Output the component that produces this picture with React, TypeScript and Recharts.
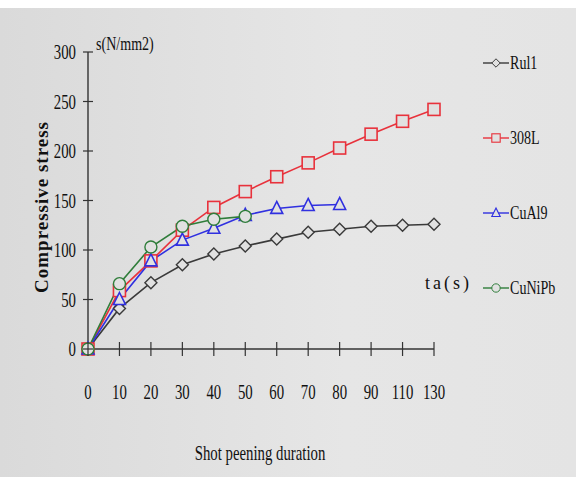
import React from "react";
import { LineChart, Line, XAxis, YAxis } from "recharts";

// shot peening duration (s) - note: no 100 / 120 in the original
const durations = ["0", "10", "20", "30", "40", "50", "60", "70", "80", "90", "110", "130"];
const yTicks = [0, 50, 100, 150, 200, 250, 300];

const rul1 = [0, 41, 67, 85, 96, 104, 111, 118, 121, 124, 125, 126];
const l308 = [0, 59, 89, 120, 143, 159, 174, 188, 203, 217, 230, 242];
const cuAl9 = [0, 50, 89, 110, 122, 135, 142, 145, 146];
const cuNiPb = [0, 66, 103, 124, 131, 134];

type Shape = "diamond" | "square" | "triangle" | "circle";

const series: { key: string; name: string; values: number[]; color: string; shape: Shape }[] = [
  { key: "rul1", name: "Rul1", values: rul1, color: "#3a3a3a", shape: "diamond" },
  { key: "l308", name: "308L", values: l308, color: "#e8323c", shape: "square" },
  { key: "cuAl9", name: "CuAl9", values: cuAl9, color: "#3030e0", shape: "triangle" },
  { key: "cuNiPb", name: "CuNiPb", values: cuNiPb, color: "#2f7d3a", shape: "circle" },
];

const data = durations.map((d, i) => {
  const row: Record<string, any> = { t: d };
  series.forEach((s) => {
    row[s.key] = i < s.values.length ? s.values[i] : null;
  });
  return row;
});

const BG = "#e1e1e1";
const SERIF = "'Liberation Serif', 'Times New Roman', serif";
const SQ = 0.74; // the original text looks horizontally squeezed

// plot box (margin.left + yaxis width, height - margin.bottom - xaxis height)
const AXIS_X = 88;
const AXIS_Y = 349;

const Marker = ({ shape, cx, cy, color }: { shape: Shape; cx: number; cy: number; color: string }) => {
  const s = 6;
  if (shape === "diamond")
    return (
      <polygon
        points={`${cx},${cy - s} ${cx + s},${cy} ${cx},${cy + s} ${cx - s},${cy}`}
        fill={BG}
        stroke={color}
        strokeWidth={1.4}
      />
    );
  if (shape === "square")
    return <rect x={cx - s} y={cy - s} width={2 * s} height={2 * s} fill={BG} stroke={color} strokeWidth={1.6} />;
  if (shape === "triangle")
    return (
      <polygon
        points={`${cx},${cy - s - 1} ${cx + s},${cy + s - 1} ${cx - s},${cy + s - 1}`}
        fill={BG}
        stroke={color}
        strokeWidth={1.6}
      />
    );
  return <circle cx={cx} cy={cy} r={s} fill={BG} stroke={color} strokeWidth={1.4} />;
};

const makeDot = (shape: Shape, color: string) => (props: any) => {
  const { cx, cy, index, value } = props;
  if (value == null || cx == null || cy == null) return <g key={`d-${index}`} />;
  return (
    <g key={`d-${index}`}>
      <Marker shape={shape} cx={cx} cy={cy} color={color} />
    </g>
  );
};

const XTick = ({ x, payload }: any) => (
  <g>
    <line x1={x} x2={x} y1={AXIS_Y - 7} y2={AXIS_Y + 7} stroke="#333" strokeWidth={1.2} />
    <text
      transform={`translate(${x},${AXIS_Y + 50}) scale(${SQ},1)`}
      textAnchor="middle"
      fontFamily={SERIF}
      fontSize={20}
      fill="#111"
    >
      {payload.value}
    </text>
  </g>
);

const YTick = ({ y, payload }: any) => (
  <g>
    <line x1={AXIS_X - 5} x2={AXIS_X + 5} y1={y} y2={y} stroke="#333" strokeWidth={1.2} />
    <text
      transform={`translate(${AXIS_X - 12},${y + 7}) scale(${SQ},1)`}
      textAnchor="end"
      fontFamily={SERIF}
      fontSize={20}
      fill="#111"
    >
      {payload.value}
    </text>
  </g>
);

const LegendBox = () => (
  <div style={{ position: "absolute", left: 482, top: 0 }}>
    {series.map((s, i) => (
      <div
        key={s.key}
        style={{ position: "absolute", left: 0, top: 52 + i * 75, display: "flex", alignItems: "center", height: 22 }}
      >
        <svg width={28} height={22}>
          <line x1={1} x2={27} y1={11} y2={11} stroke={s.color} strokeWidth={1.4} />
          <g transform="translate(14,11) scale(0.7) translate(-14,-11)">
            <Marker shape={s.shape} cx={14} cy={11} color={s.color} />
          </g>
        </svg>
        <span
          style={{
            fontFamily: SERIF,
            fontSize: 19,
            color: "#111",
            display: "inline-block",
            transform: `scale(${SQ},1)`,
            transformOrigin: "left center",
            whiteSpace: "nowrap",
          }}
        >
          {s.name}
        </span>
      </div>
    ))}
  </div>
);

export default function App() {
  return (
    <div
      style={{
        position: "absolute",
        left: 0,
        top: 0,
        width: 576,
        height: 477,
        background: "linear-gradient(to right, #dadada, #e6e6e6 60%, #e4e4e4)",
        overflow: "hidden",
      }}
    >
      <div style={{ position: "absolute", left: 0, top: 0, width: 576, height: 8, background: "#fff" }} />
      <LineChart
        width={576}
        height={477}
        data={data}
        margin={{ top: 52, right: 142, bottom: 68, left: 28 }}
        style={{ position: "absolute", left: 0, top: 0 }}
      >
        <XAxis
          dataKey="t"
          height={60}
          stroke="#333"
          strokeWidth={1.4}
          tickLine={false}
          interval={0}
          tick={<XTick />}
          padding={{ left: 0, right: 0 }}
        />
        <YAxis
          width={60}
          domain={[0, 300]}
          ticks={yTicks}
          stroke="#333"
          strokeWidth={1.4}
          tickLine={false}
          tick={<YTick />}
        />
        {series.map((s) => (
          <Line
            key={s.key}
            dataKey={s.key}
            name={s.name}
            stroke={s.color}
            strokeWidth={1.6}
            dot={makeDot(s.shape, s.color)}
            activeDot={false}
            isAnimationActive={false}
            connectNulls={false}
          />
        ))}
        <text
          transform={`translate(96,50) scale(${SQ},1)`}
          fontFamily={SERIF}
          fontSize={19}
          fill="#111"
        >
          s(N/mm2)
        </text>
        <text
          transform={`translate(48,207) rotate(-90)`}
          textAnchor="middle"
          fontFamily={SERIF}
          fontWeight="bold"
          fontSize={19}
          letterSpacing={1}
          fill="#111"
        >
          Compressive stress
        </text>
        <text x={425} y={289} fontFamily={SERIF} fontSize={18} letterSpacing={3} fill="#111">
          ta(s)
        </text>
        <text
          transform={`translate(260,460) scale(${SQ},1)`}
          textAnchor="middle"
          fontFamily={SERIF}
          fontSize={20}
          fill="#111"
        >
          Shot peening duration
        </text>
      </LineChart>
      <LegendBox />
    </div>
  );
}
